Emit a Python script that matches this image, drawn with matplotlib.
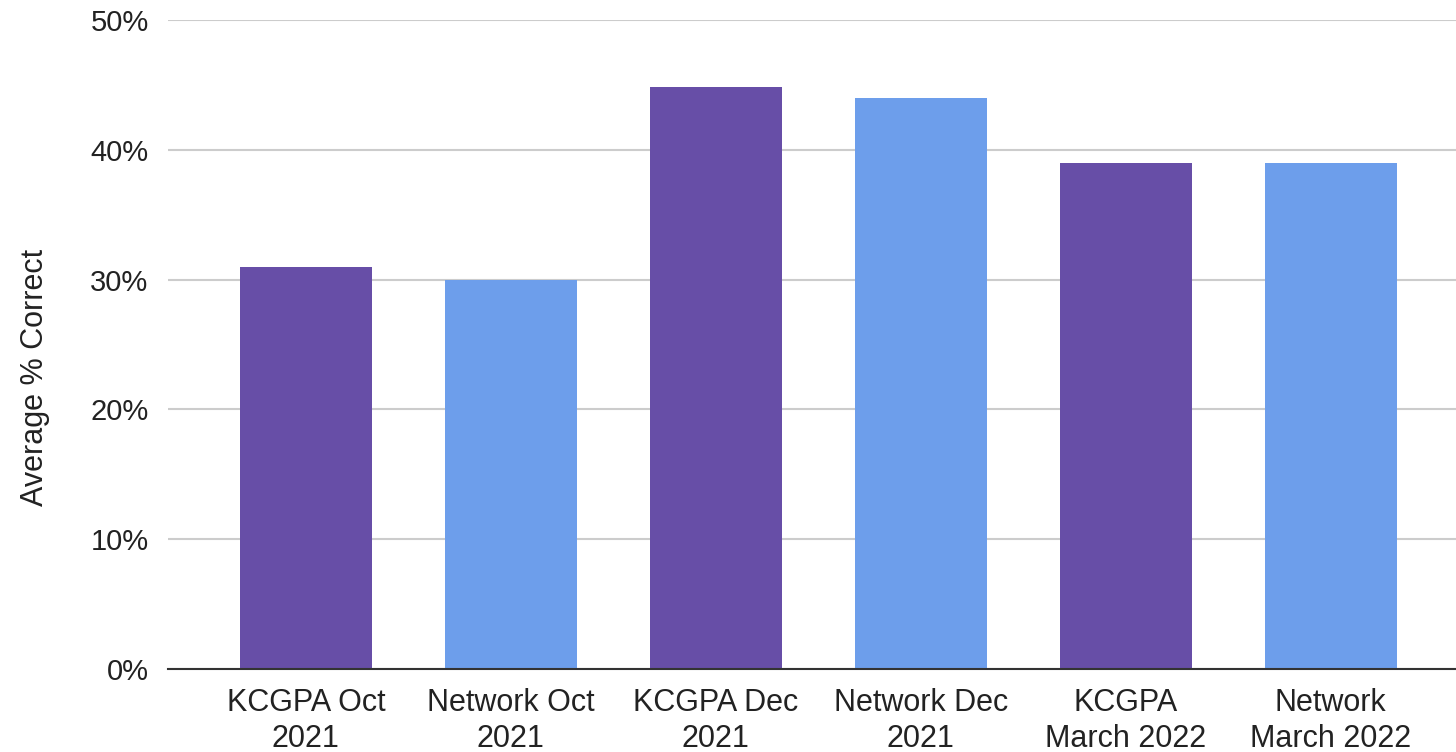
import matplotlib
matplotlib.use("Agg")
import matplotlib.pyplot as plt
from matplotlib.ticker import PercentFormatter

categories = ["KCGPA Oct\n2021", "Network Oct\n2021", "KCGPA Dec\n2021",
              "Network Dec\n2021", "KCGPA\nMarch 2022", "Network\nMarch 2022"]
values = [0.31, 0.30, 0.448, 0.44, 0.39, 0.39]
colors = ["#674ea7", "#6d9eeb", "#674ea7", "#6d9eeb", "#674ea7", "#6d9eeb"]
yticks = [0.0, 0.1, 0.2, 0.3, 0.4, 0.5]

plt.rcParams["font.family"] = ["Liberation Sans", "DejaVu Sans"]

fig = plt.figure(figsize=(14.56, 7.52), dpi=100)
ax = fig.add_axes([168 / 1456, 1 - 669 / 752, 1 - 168 / 1456, (669 - 20) / 752])

x = list(range(len(categories)))
ax.bar(x, values, width=0.644, color=colors, zorder=3)

ax.set_ylim(0, 0.5)
ax.set_xlim(-0.673, 5.612)
ax.set_yticks(yticks)
ax.yaxis.set_major_formatter(PercentFormatter(1.0, decimals=0))
ax.set_xticks(x)
ax.set_xticklabels(categories, linespacing=1.25, fontsize=22)

ax.grid(axis="y", color="#cccccc", linewidth=1.5, zorder=0)
ax.set_axisbelow(True)
for side in ["top", "right", "left"]:
    ax.spines[side].set_visible(False)
ax.spines["bottom"].set_color("#333333")
ax.spines["bottom"].set_linewidth(1.5)
ax.spines["bottom"].set_zorder(4)

ax.tick_params(axis="both", length=0, colors="#222222")
ax.tick_params(axis="y", pad=14, labelsize=21)
ax.tick_params(axis="x", pad=14)

ax.set_ylabel("Average % Correct", fontsize=22, color="#222222", labelpad=29, y=0.45)

fig.savefig("out.png", dpi=100, facecolor="white")
